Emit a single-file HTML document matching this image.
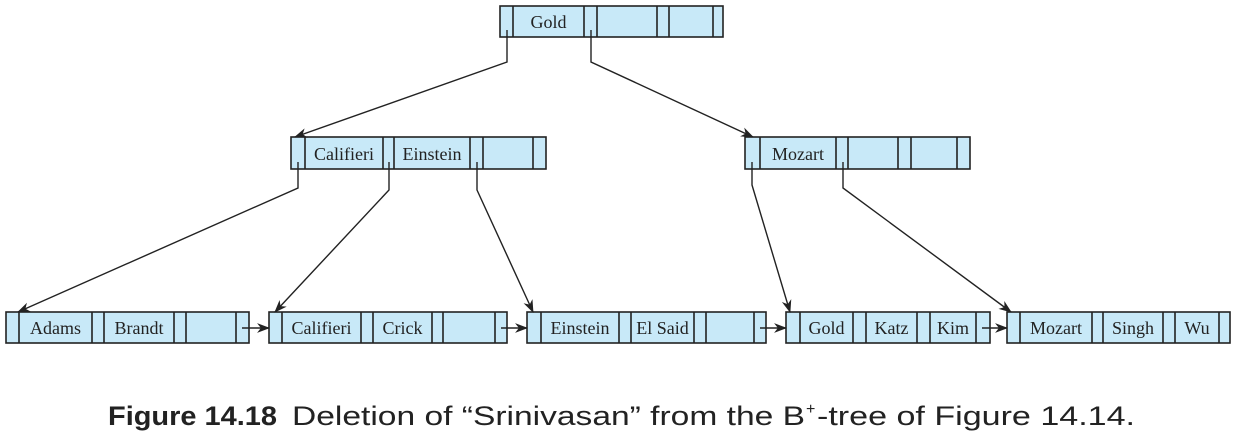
<!DOCTYPE html>
<html><head><meta charset="utf-8"><style>body{margin:0;background:#fff}svg{display:block}</style></head><body>
<svg width="1236" height="439" xmlns="http://www.w3.org/2000/svg" font-family="Liberation Serif, serif" font-size="18">
<defs><marker id="a" viewBox="0 0 12 10" refX="11" refY="5" markerWidth="13" markerHeight="11" orient="auto" markerUnits="userSpaceOnUse"><path d="M0,0.5 L12,5 L0,9.5 L3.5,5 z" fill="#222"/></marker></defs>
<g stroke="#222" stroke-width="1.6" fill="#c8e9f8">
<rect x="500" y="6" width="223" height="31"/>
<path d="M513,6V37M584,6V37M597,6V37M657,6V37M669,6V37M713,6V37"/>
<rect x="291" y="137" width="255" height="32"/>
<path d="M305,137V169M383,137V169M394,137V169M470,137V169M483,137V169M533,137V169"/>
<rect x="745" y="137" width="225" height="32"/>
<path d="M760,137V169M836,137V169M848,137V169M898,137V169M911,137V169M957,137V169"/>
<rect x="6" y="312" width="243" height="31"/>
<path d="M19,312V343M92,312V343M104,312V343M174,312V343M186,312V343M236,312V343"/>
<rect x="269" y="312" width="238" height="31"/>
<path d="M282,312V343M361,312V343M373,312V343M432,312V343M443,312V343M495,312V343"/>
<rect x="527" y="312" width="239" height="31"/>
<path d="M541,312V343M619,312V343M631,312V343M694,312V343M706,312V343M754,312V343"/>
<rect x="786" y="312" width="204" height="31"/>
<path d="M800,312V343M853,312V343M866,312V343M917,312V343M930,312V343M976,312V343"/>
<rect x="1007" y="312" width="223" height="31"/>
<path d="M1020,312V343M1092,312V343M1103,312V343M1163,312V343M1175,312V343M1219,312V343"/>
</g>
<g stroke="#222" stroke-width="1.4" fill="none">
<path d="M507,30 V62 L295,137" marker-end="url(#a)"/>
<path d="M591,30 V62 L753,137" marker-end="url(#a)"/>
<path d="M298,162 V188 L18,312" marker-end="url(#a)"/>
<path d="M389,162 V190 L275,312" marker-end="url(#a)"/>
<path d="M477,162 V190 L533,312" marker-end="url(#a)"/>
<path d="M752,162 V185 L790,312" marker-end="url(#a)"/>
<path d="M843,162 V188 L1011,312" marker-end="url(#a)"/>
<path d="M242,328 H269" marker-end="url(#a)"/>
<path d="M501,328 H527" marker-end="url(#a)"/>
<path d="M760,328 H786" marker-end="url(#a)"/>
<path d="M982,328 H1007" marker-end="url(#a)"/>
</g>
<g fill="#222" text-anchor="middle">
<text x="548.5" y="28">Gold</text>
<text x="344" y="160">Califieri</text>
<text x="432" y="160">Einstein</text>
<text x="798" y="160">Mozart</text>
<text x="55.5" y="334">Adams</text>
<text x="139" y="334">Brandt</text>
<text x="321.5" y="334">Califieri</text>
<text x="402.5" y="334">Crick</text>
<text x="580" y="334">Einstein</text>
<text x="662.5" y="334">El Said</text>
<text x="826.5" y="334">Gold</text>
<text x="891.5" y="334">Katz</text>
<text x="953" y="334">Kim</text>
<text x="1056" y="334">Mozart</text>
<text x="1133" y="334">Singh</text>
<text x="1197" y="334">Wu</text>
</g>
<g font-family="Liberation Sans, sans-serif" font-size="27" fill="#222">
<text x="108" y="425" font-weight="bold" textLength="169" lengthAdjust="spacingAndGlyphs">Figure 14.18</text>
<text x="292" y="425" textLength="513" lengthAdjust="spacingAndGlyphs">Deletion of “Srinivasan” from the B</text>
<text x="806" y="414" font-size="16">+</text>
<text x="817" y="425" textLength="318" lengthAdjust="spacingAndGlyphs">-tree of Figure 14.14.</text>
</g>
</svg>
</body></html>
